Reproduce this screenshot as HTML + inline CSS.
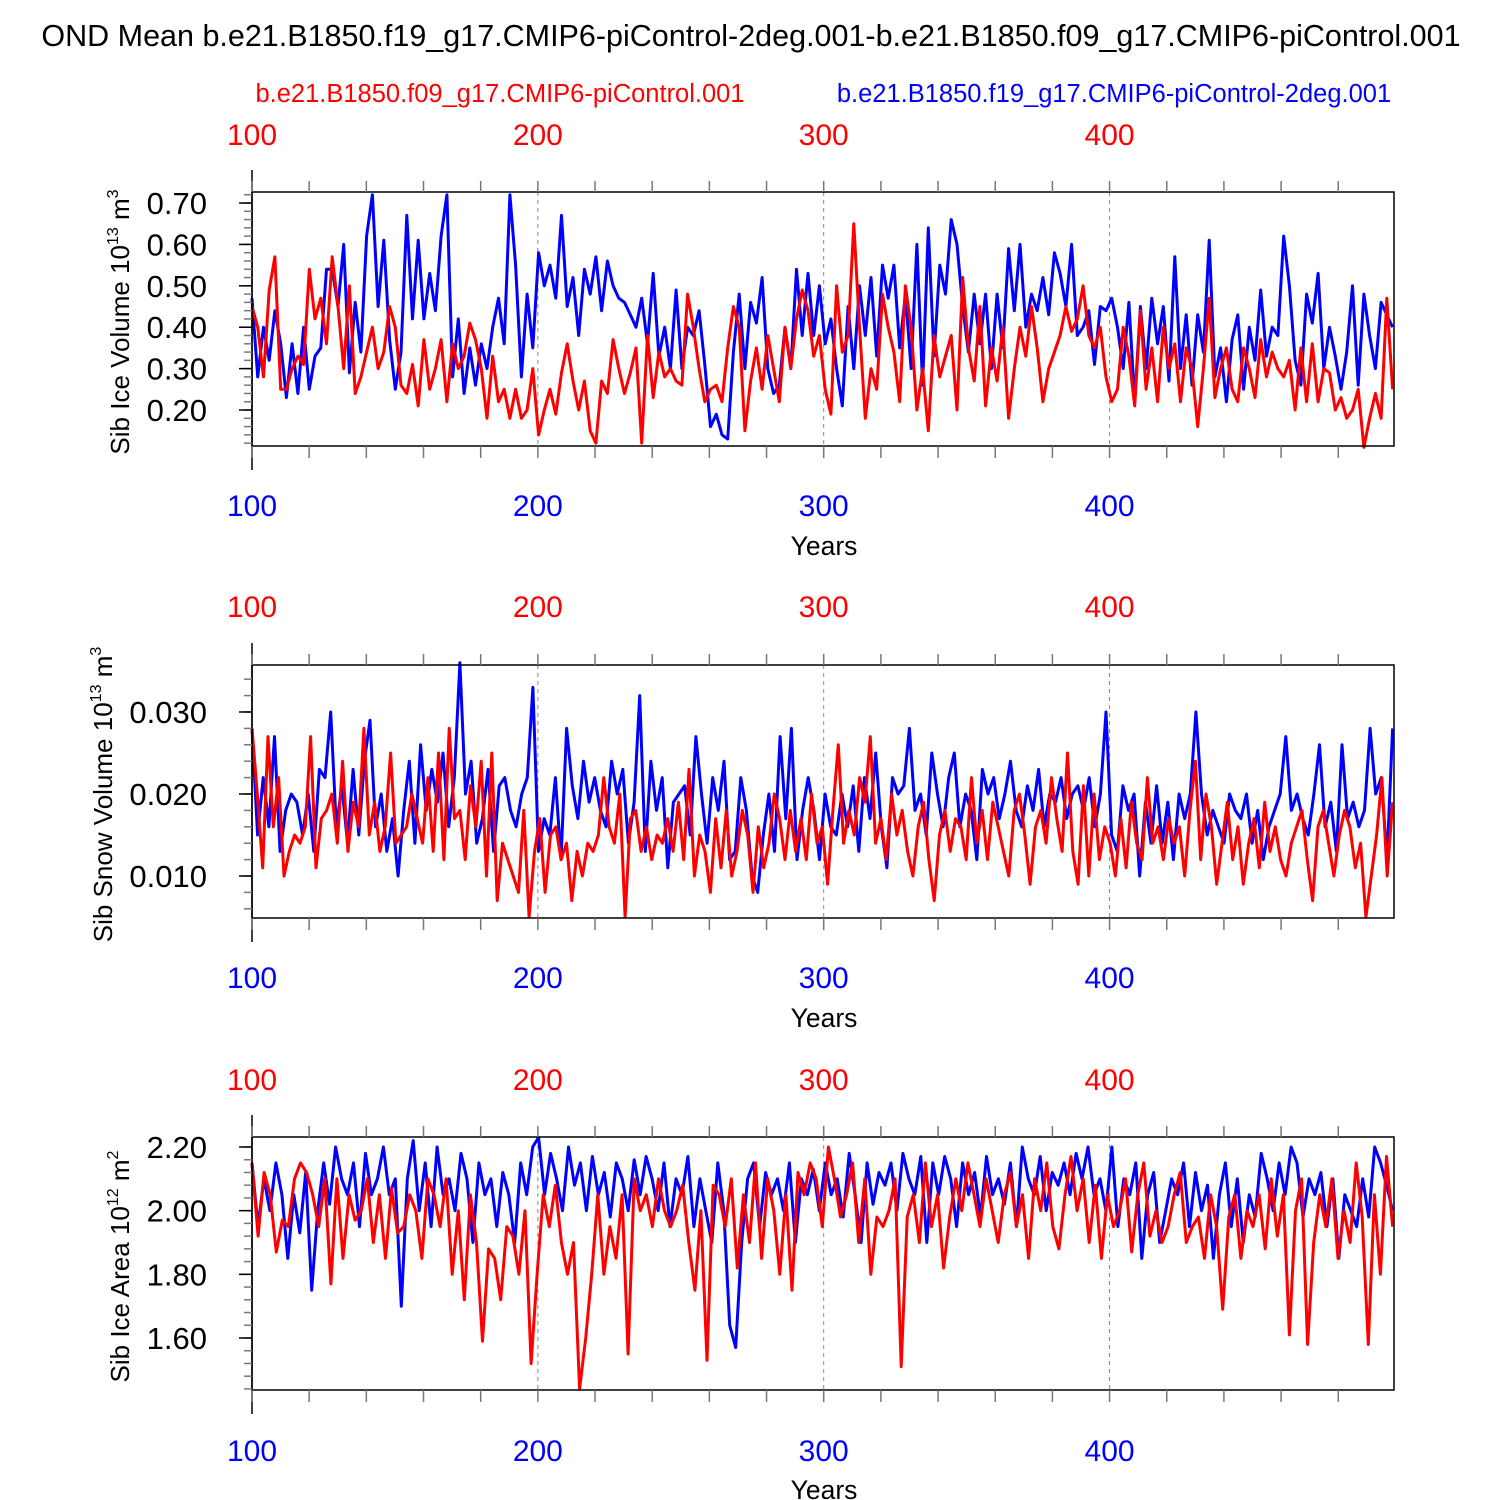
<!DOCTYPE html>
<html><head><meta charset="utf-8">
<style>
html,body{margin:0;padding:0;background:#fff;}
svg{display:block;font-family:"Liberation Sans",Arial,sans-serif;}
</style></head>
<body>
<svg id="chart" width="1500" height="1500" viewBox="0 0 1500 1500">
<text x="751" y="46" font-size="30.5" text-anchor="middle">OND Mean b.e21.B1850.f19_g17.CMIP6-piControl-2deg.001-b.e21.B1850.f09_g17.CMIP6-piControl.001</text>
<text x="500" y="102" font-size="25.5" fill="#ff0000" text-anchor="middle">b.e21.B1850.f09_g17.CMIP6-piControl.001</text>
<text x="1114" y="102" font-size="25.5" fill="#0000ff" text-anchor="middle">b.e21.B1850.f19_g17.CMIP6-piControl-2deg.001</text>
</svg>
<script>
// ---- data ----
const xTickYears = [100, 200, 300, 400];
const iceVolBlue = [0.47,0.28,0.40,0.32,0.44,0.36,0.23,0.36,0.24,0.40,0.25,0.33,0.35,0.54,0.54,0.45,0.60,0.29,0.46,0.34,0.62,0.72,0.45,0.61,0.37,0.25,0.34,0.67,0.42,0.61,0.42,0.53,0.44,0.62,0.72,0.28,0.42,0.24,0.35,0.26,0.36,0.30,0.40,0.47,0.36,0.72,0.55,0.28,0.48,0.35,0.58,0.50,0.55,0.47,0.67,0.45,0.52,0.38,0.54,0.48,0.57,0.44,0.56,0.50,0.47,0.46,0.43,0.40,0.47,0.36,0.53,0.33,0.40,0.30,0.49,0.30,0.40,0.38,0.44,0.31,0.16,0.19,0.14,0.13,0.34,0.48,0.30,0.46,0.41,0.52,0.30,0.24,0.26,0.40,0.30,0.54,0.38,0.53,0.38,0.50,0.36,0.42,0.30,0.21,0.45,0.30,0.50,0.38,0.52,0.33,0.55,0.47,0.55,0.35,0.48,0.30,0.60,0.26,0.64,0.33,0.55,0.48,0.66,0.60,0.45,0.34,0.48,0.36,0.48,0.30,0.48,0.35,0.59,0.44,0.60,0.40,0.48,0.44,0.52,0.43,0.58,0.53,0.45,0.60,0.38,0.40,0.44,0.31,0.45,0.44,0.47,0.40,0.30,0.46,0.22,0.45,0.30,0.47,0.36,0.45,0.27,0.57,0.30,0.43,0.26,0.43,0.34,0.61,0.28,0.35,0.22,0.37,0.43,0.25,0.40,0.32,0.49,0.33,0.40,0.38,0.62,0.50,0.32,0.26,0.48,0.41,0.53,0.30,0.40,0.33,0.25,0.34,0.50,0.26,0.48,0.38,0.30,0.46,0.43,0.40];
const iceVolRed = [0.45,0.40,0.28,0.49,0.57,0.25,0.25,0.30,0.33,0.31,0.54,0.42,0.47,0.36,0.57,0.45,0.30,0.50,0.24,0.28,0.34,0.40,0.30,0.34,0.45,0.40,0.26,0.24,0.31,0.21,0.37,0.25,0.30,0.37,0.22,0.36,0.30,0.33,0.41,0.37,0.30,0.18,0.33,0.22,0.25,0.18,0.25,0.18,0.20,0.30,0.14,0.20,0.25,0.19,0.29,0.36,0.27,0.20,0.27,0.15,0.12,0.27,0.24,0.37,0.30,0.24,0.29,0.35,0.12,0.38,0.23,0.34,0.28,0.30,0.27,0.26,0.48,0.40,0.30,0.22,0.25,0.26,0.22,0.35,0.45,0.40,0.15,0.27,0.35,0.25,0.38,0.30,0.22,0.40,0.30,0.42,0.49,0.44,0.33,0.38,0.25,0.19,0.50,0.34,0.38,0.65,0.40,0.18,0.30,0.25,0.48,0.40,0.34,0.22,0.50,0.40,0.20,0.30,0.15,0.38,0.28,0.33,0.38,0.20,0.52,0.35,0.27,0.45,0.21,0.35,0.27,0.40,0.18,0.30,0.40,0.33,0.45,0.35,0.22,0.30,0.34,0.38,0.45,0.39,0.42,0.50,0.38,0.35,0.40,0.28,0.22,0.25,0.40,0.33,0.21,0.44,0.25,0.35,0.22,0.40,0.30,0.36,0.22,0.35,0.30,0.16,0.30,0.47,0.23,0.30,0.35,0.25,0.22,0.35,0.30,0.23,0.37,0.28,0.34,0.30,0.28,0.32,0.20,0.35,0.22,0.36,0.22,0.30,0.29,0.20,0.23,0.18,0.20,0.25,0.11,0.18,0.24,0.18,0.47,0.25];
const snowBlue = [0.028,0.015,0.022,0.016,0.027,0.013,0.018,0.020,0.019,0.015,0.020,0.013,0.023,0.022,0.030,0.016,0.021,0.014,0.023,0.015,0.024,0.029,0.016,0.020,0.013,0.017,0.010,0.018,0.024,0.014,0.026,0.018,0.023,0.019,0.025,0.016,0.022,0.036,0.020,0.024,0.014,0.017,0.023,0.013,0.021,0.022,0.018,0.016,0.020,0.022,0.033,0.013,0.017,0.015,0.022,0.012,0.028,0.021,0.017,0.024,0.019,0.022,0.018,0.016,0.024,0.020,0.023,0.014,0.019,0.032,0.013,0.024,0.018,0.022,0.011,0.019,0.020,0.021,0.015,0.027,0.020,0.014,0.022,0.018,0.024,0.012,0.013,0.022,0.018,0.010,0.008,0.015,0.020,0.013,0.027,0.017,0.028,0.012,0.018,0.022,0.018,0.012,0.020,0.016,0.015,0.020,0.016,0.021,0.013,0.022,0.017,0.025,0.016,0.011,0.022,0.020,0.021,0.028,0.018,0.020,0.015,0.025,0.020,0.016,0.022,0.025,0.016,0.020,0.018,0.012,0.023,0.020,0.022,0.017,0.020,0.024,0.018,0.016,0.021,0.018,0.023,0.016,0.020,0.019,0.022,0.017,0.020,0.021,0.018,0.022,0.016,0.020,0.030,0.015,0.013,0.021,0.018,0.020,0.010,0.019,0.014,0.021,0.014,0.019,0.012,0.020,0.017,0.020,0.030,0.020,0.015,0.018,0.016,0.014,0.020,0.018,0.017,0.020,0.014,0.018,0.012,0.016,0.018,0.020,0.027,0.018,0.020,0.017,0.015,0.020,0.026,0.016,0.019,0.013,0.026,0.017,0.019,0.016,0.018,0.028,0.020,0.022,0.012,0.028];
const snowRed = [0.028,0.020,0.011,0.027,0.016,0.022,0.010,0.013,0.015,0.014,0.016,0.027,0.011,0.017,0.018,0.020,0.014,0.024,0.013,0.019,0.016,0.028,0.015,0.019,0.013,0.016,0.025,0.014,0.015,0.016,0.020,0.017,0.014,0.022,0.013,0.025,0.012,0.028,0.017,0.018,0.012,0.021,0.016,0.024,0.010,0.025,0.007,0.014,0.012,0.010,0.008,0.018,0.005,0.013,0.017,0.008,0.015,0.016,0.012,0.014,0.007,0.013,0.010,0.014,0.013,0.015,0.022,0.016,0.014,0.020,0.005,0.017,0.018,0.013,0.016,0.012,0.015,0.014,0.017,0.013,0.019,0.012,0.023,0.010,0.015,0.013,0.008,0.017,0.011,0.018,0.010,0.013,0.018,0.015,0.008,0.016,0.011,0.014,0.020,0.017,0.012,0.018,0.013,0.017,0.012,0.020,0.014,0.016,0.009,0.018,0.026,0.014,0.018,0.015,0.022,0.019,0.027,0.014,0.017,0.012,0.020,0.015,0.018,0.013,0.010,0.016,0.019,0.012,0.007,0.015,0.018,0.013,0.017,0.016,0.012,0.022,0.014,0.018,0.012,0.019,0.016,0.013,0.010,0.018,0.020,0.015,0.009,0.016,0.018,0.014,0.022,0.017,0.013,0.025,0.013,0.009,0.021,0.010,0.020,0.012,0.016,0.014,0.010,0.017,0.011,0.019,0.014,0.012,0.022,0.014,0.016,0.012,0.017,0.014,0.016,0.010,0.018,0.024,0.012,0.020,0.016,0.009,0.014,0.019,0.012,0.016,0.009,0.014,0.017,0.011,0.019,0.013,0.016,0.012,0.010,0.014,0.016,0.018,0.012,0.007,0.016,0.018,0.014,0.010,0.015,0.018,0.016,0.011,0.014,0.005,0.010,0.015,0.022,0.010,0.019];
const areaBlue = [2.15,1.95,2.10,2.00,2.15,2.05,1.85,2.05,1.93,2.12,1.75,2.00,2.15,2.02,2.20,2.10,2.05,2.15,1.95,2.18,2.05,2.10,2.20,2.05,2.10,1.70,2.10,2.22,2.00,2.15,1.95,2.20,2.05,2.10,2.00,2.18,2.10,1.90,2.15,2.05,2.10,1.95,2.12,2.05,1.90,2.15,2.05,2.20,2.23,2.05,2.18,2.10,2.00,2.20,2.08,2.15,2.00,2.17,2.05,2.12,1.98,2.15,2.10,2.00,2.16,2.05,2.17,2.10,2.00,2.15,1.95,2.10,2.05,2.17,1.95,2.10,2.00,1.90,2.15,2.00,1.64,1.57,1.90,2.10,2.15,1.95,2.12,2.05,2.10,2.00,2.15,1.90,2.10,2.05,2.13,2.00,2.15,2.05,2.10,1.98,2.18,2.05,1.90,2.15,2.02,2.12,2.08,2.15,2.00,2.18,2.10,2.05,2.17,1.90,2.15,2.05,2.17,2.10,1.95,2.15,2.05,2.12,1.98,2.17,2.05,2.10,2.02,2.15,1.95,2.20,2.10,2.05,2.17,2.00,2.12,2.08,2.15,2.05,2.18,2.10,2.20,2.05,2.10,2.00,2.20,1.95,2.10,2.05,2.15,1.85,2.05,2.12,1.90,2.00,2.10,2.05,2.15,1.95,2.12,2.00,2.08,1.85,2.05,2.15,1.95,2.10,1.90,2.05,1.98,2.18,2.10,2.00,2.15,2.05,2.20,2.15,1.98,2.10,2.05,2.12,1.95,2.10,1.85,2.05,2.00,1.95,2.10,1.98,2.20,2.15,2.08,2.00];
const areaRed = [2.15,1.92,2.12,2.05,1.87,1.97,1.95,2.10,2.15,2.12,2.05,1.95,2.10,1.77,2.10,1.85,2.05,1.97,2.00,2.10,1.90,2.05,1.85,2.07,1.93,1.95,2.05,2.00,1.85,2.10,2.05,1.95,2.10,1.80,2.00,1.72,2.05,1.90,1.59,1.88,1.85,1.72,1.95,1.92,1.80,2.00,1.52,1.80,2.05,1.95,2.08,1.90,1.80,1.90,1.44,1.60,1.80,2.05,1.80,1.95,1.85,2.05,1.55,2.10,2.00,2.05,1.95,2.10,2.00,1.95,2.00,2.08,1.90,1.75,2.00,1.53,2.08,2.05,1.95,2.10,1.82,2.05,1.90,2.15,1.85,2.10,2.00,1.80,2.05,1.75,2.12,2.05,2.15,2.10,1.95,2.20,2.10,1.98,2.05,2.15,1.90,2.10,1.80,1.98,1.95,2.00,2.10,1.51,1.98,2.05,1.90,2.15,1.95,2.05,1.82,1.98,2.10,2.00,2.15,2.05,1.95,2.10,2.00,1.90,2.05,2.12,1.95,2.05,1.85,2.10,2.00,2.15,1.95,1.88,2.05,2.17,2.00,2.10,1.90,2.08,1.85,2.05,1.95,2.00,2.10,1.87,2.05,2.15,1.92,2.00,1.90,1.95,2.05,2.12,1.90,1.95,1.98,1.85,2.05,1.95,1.69,1.98,2.05,1.85,2.00,1.95,2.05,1.88,2.10,1.92,2.05,1.61,2.00,2.10,1.58,1.90,2.05,1.95,2.10,1.85,2.00,1.90,2.15,1.98,1.58,2.05,1.80,2.17,1.95];
const iceVolTicks = ["0.20","0.30","0.40","0.50","0.60","0.70"];
const snowTicks = ["0.010","0.020","0.030"];
const areaTicks = ["1.60","1.80","2.00","2.20"];

// ---- layout ----
const NS = "http://www.w3.org/2000/svg";
const svg = document.getElementById('chart');
const X0 = 252, X1 = 1394, YEAR0 = 100, YEAR1 = 499.5;
function xs(yr){ return X0 + (yr - YEAR0) / (YEAR1 - YEAR0) * (X1 - X0); }
function mk(tag, attrs, parent){
  const e = document.createElementNS(NS, tag);
  for (const k in attrs) e.setAttribute(k, attrs[k]);
  (parent || svg).appendChild(e);
  return e;
}
const panels = [
  {key:'ice-volume', top:192, bot:446, ymin:0.1131, ymax:0.7266, ticks:iceVolTicks, minor:0.02, blue:iceVolBlue, red:iceVolRed, title:['Sib Ice Volume 10','13',' m','3'], tx:129, topLab:145, botLab:516, years:555},
  {key:'snow-volume', top:665, bot:918, ymin:0.00488, ymax:0.03573, ticks:snowTicks, minor:0.002, blue:snowBlue, red:snowRed, title:['Sib Snow Volume 10','13',' m','3'], tx:112, topLab:617, botLab:988, years:1027},
  {key:'ice-area', top:1137, bot:1390, ymin:1.4366, ymax:2.2314, ticks:areaTicks, minor:0.04, blue:areaBlue, red:areaRed, title:['Sib Ice Area 10','12',' m','2'], tx:129, topLab:1090, botLab:1461, years:1499}
];
panels.forEach(p => {
  const g = mk('g', {});
  
  
  const ys = v => p.bot - (v - p.ymin) / (p.ymax - p.ymin) * (p.bot - p.top);
  [200,300,400].forEach(yr => {
    const l = mk('line', {x1:xs(yr), x2:xs(yr), y1:p.top, y2:p.bot, stroke:'#888', 'stroke-width':1, 'stroke-dasharray':'4,4'}, g);
    
    
  });
  [['blue', p.blue, '#0000ff'], ['red', p.red, '#ff0000']].forEach(([nm, arr, col]) => {
    const n = arr.length;
    const pts = arr.map((v, i) => xs(YEAR0 + i * (YEAR1 - 0.5 - YEAR0) / (n - 1)).toFixed(1) + ',' + ys(v).toFixed(1)).join(' ');
    const pl = mk('polyline', {points:pts, fill:'none', stroke:col, 'stroke-width':3, 'stroke-linejoin':'round'}, g);
    
    
  });
  const box = mk('rect', {x:X0, y:p.top, width:X1 - X0, height:p.bot - p.top, fill:'none', stroke:'#000', 'stroke-width':1.5}, g);
  
  
  mk('line', {x1:X0, x2:X0, y1:p.top - 22, y2:p.bot + 24, stroke:'#000', 'stroke-width':1.5}, g);
  for (let yr = 100; yr <= 480; yr += 20) {
    const x = xs(yr);
    mk('line', {x1:x, x2:x, y1:p.top - 11, y2:p.top, stroke:'#777', 'stroke-width':1.5}, g);
    mk('line', {x1:x, x2:x, y1:p.bot, y2:p.bot + 12, stroke:'#777', 'stroke-width':1.5}, g);
  }
  xTickYears.forEach(yr => {
    const t1 = mk('text', {x:xs(yr), y:p.topLab, 'font-size':30, fill:'#ff0000', 'text-anchor':'middle'}, g);
    t1.textContent = yr;
    
    
    const t2 = mk('text', {x:xs(yr), y:p.botLab, 'font-size':30, fill:'#0000ff', 'text-anchor':'middle'}, g);
    t2.textContent = yr;
    
    
  });
  const yt = mk('text', {x:824, y:p.years, 'font-size':26.5, 'text-anchor':'middle'}, g);
  yt.textContent = 'Years';
  
  
  const step = p.minor;
  for (let v = Math.ceil(p.ymin / step) * step; v <= p.ymax + 1e-9; v += step) {
    const y = ys(v);
    mk('line', {x1:X0 - 8, x2:X0, y1:y, y2:y, stroke:'#777', 'stroke-width':1.5}, g);
  }
  p.ticks.forEach(lab => {
    const y = ys(parseFloat(lab));
    mk('line', {x1:X0 - 13, x2:X0, y1:y, y2:y, stroke:'#000', 'stroke-width':1.5}, g);
    const t = mk('text', {x:X0 - 45, y:y + 11, 'font-size':31, 'text-anchor':'end'}, g);
    t.textContent = lab;
    
    
  });
  const cy = (p.top + p.bot) / 2 + 3;
  const tt = mk('text', {x:0, y:0, 'font-size':26, 'text-anchor':'middle', transform:'translate(' + p.tx + ',' + cy + ') rotate(-90)'}, g);
  
  
  p.title.forEach((s, i) => {
    const ts = mk('tspan', {}, tt);
    if (i % 2 === 1) { ts.setAttribute('font-size', 16); ts.setAttribute('dy', -11); }
    else if (i > 0) { ts.setAttribute('dy', 11); }
    ts.textContent = s;
  });
});
</script>
</body></html>
